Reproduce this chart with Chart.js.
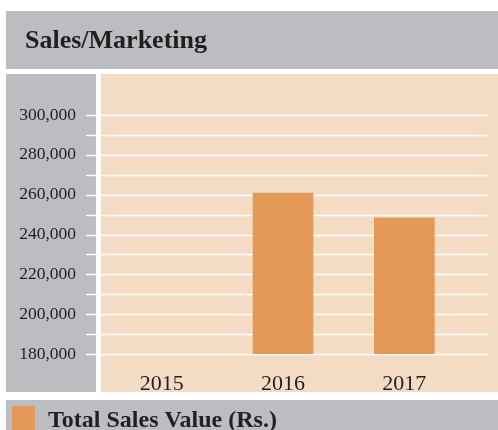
<!DOCTYPE html>
<html>
<head>
<meta charset="utf-8">
<script src="https://cdn.jsdelivr.net/npm/chart.js@4.4.1/dist/chart.umd.min.js"></script>
<style>
  html, body { margin: 0; padding: 0; background: #fff; }
  canvas { display: block; }
</style>
</head>
<body>
<canvas id="salesChart" width="498" height="430"></canvas>
<script>
// ── Data ──
const years      = ['2015', '2016', '2017'];
const salesValue = [null, 261000, 248500];
const seriesName = 'Total Sales Value (Rs.)';
const chartTitle = 'Sales/Marketing';
const yMin = 180000, yMax = 300000, yStep = 10000, yLabelStep = 20000;

// ── Colours ──
const GREY  = '#bcbdc1';
const PEACH = '#f4dcc4';
const BAR   = '#e39a58';
const INK   = '#231f20';
const SERIF = '"Liberation Serif", "Times New Roman", serif';

const fmtNum = v => Number(v).toLocaleString('en-US');

// Panels, grid lines, title and legend
const framePlugin = {
  id: 'frame',
  beforeDraw(chart) {
    const c = chart.ctx;
    c.save();
    c.fillStyle = GREY;
    c.fillRect(6, 11, 492, 58);    // title band
    c.fillRect(6, 74, 90, 318);    // left axis panel
    c.fillRect(6, 400, 492, 30);   // legend band
    c.fillStyle = PEACH;
    c.fillRect(101, 74, 397, 318); // plot panel

    c.fillStyle = INK;
    c.font = 'bold 26px ' + SERIF;
    c.textBaseline = 'alphabetic';
    c.textAlign = 'left';
    c.fillText(chartTitle, 25, 48);

    // legend
    const ds = chart.data.datasets[0];
    c.fillStyle = ds.backgroundColor;
    c.fillRect(12, 406, 23, 24);
    c.fillStyle = INK;
    c.font = 'bold 24px ' + SERIF;
    c.fillText(ds.label, 48, 427);
    c.restore();
  },
  beforeDatasetsDraw(chart) {
    const c = chart.ctx, y = chart.scales.y;
    c.save();
    c.strokeStyle = '#ffffff';
    c.lineWidth = 1.6;
    for (let v = yMin; v <= yMax; v += yStep) {
      const py = Math.round(y.getPixelForValue(v)) + 0.5;
      c.beginPath();
      c.moveTo(86, py); c.lineTo(96, py);
      c.moveTo(101, py); c.lineTo(488, py);
      c.stroke();
    }
    c.restore();
  }
};

new Chart(document.getElementById('salesChart'), {
  type: 'bar',
  data: {
    labels: years,
    datasets: [{
      label: seriesName,
      data: salesValue,
      backgroundColor: BAR,
      borderWidth: 0,
      barPercentage: 0.5,
      categoryPercentage: 1.0,
    }]
  },
  options: {
    responsive: false,
    animation: false,
    layout: { padding: { top: 115, right: 33, bottom: 0, left: 0 } },
    plugins: { legend: { display: false }, tooltip: { enabled: false } },
    scales: {
      x: {
        grid: { display: false, drawTicks: false },
        border: { display: false },
        ticks: { color: INK, font: { family: SERIF, size: 22 }, padding: 17 },
        afterFit: s => { s.height = 76; },
      },
      y: {
        min: yMin, max: yMax,
        grid: { display: false, drawTicks: false },
        border: { display: false },
        ticks: {
          stepSize: yStep,
          color: INK,
          font: { family: SERIF, size: 17.5 },
          padding: 25,
          callback: v => (v - yMin) % yLabelStep === 0 ? fmtNum(v) : '',
        },
        afterFit: s => { s.width = 101; },
      }
    }
  },
  plugins: [framePlugin]
});
</script>
</body>
</html>
